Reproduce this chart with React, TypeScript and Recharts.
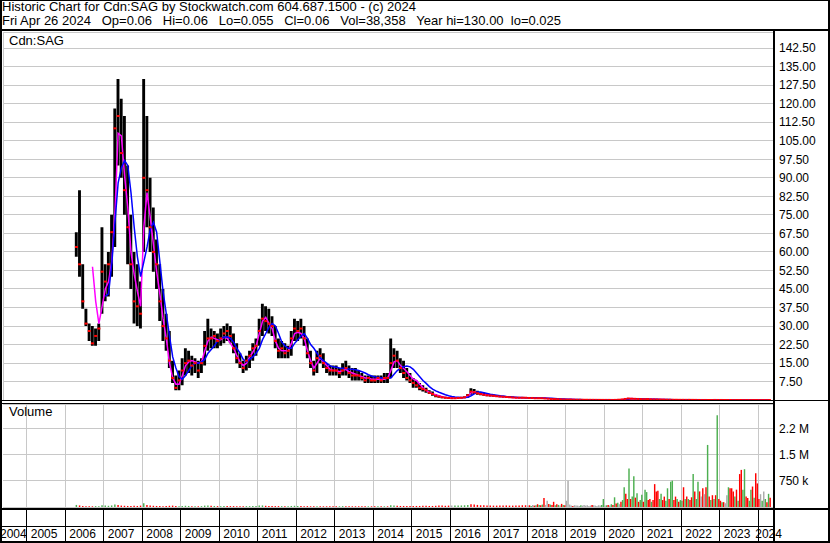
import React from 'react';
import { ComposedChart, Bar, Line, Scatter, XAxis, YAxis, CartesianGrid, Cell } from 'recharts';

// ---------- data ----------
// Monthly OHLC-style summary, April 2006 .. April 2024
const FIRST_YEAR = 2006;
const FIRST_MONTH = 3; // April (0-based)

const priceHigh: number[] = [
  68, 85, 55, 37, 31, 30, 29, 31, 70,
  55, 60, 75, 118, 130, 122, 115, 95, 75, 60, 55, 48,
  130, 115, 90, 78, 65, 55, 45, 35, 28, 16, 10, 12,
  17, 21, 20, 18, 17, 16, 17, 28, 33, 29, 28, 27,
  29, 30, 31, 30, 27, 23, 19, 16, 18, 20, 23, 25,
  33, 39, 38, 37, 34, 30, 25, 24, 23, 22, 28, 33,
  32, 33, 30, 25, 20, 16, 20, 21, 19, 15, 14, 14,
  14, 13, 15, 16, 14, 13, 13, 12, 11, 10, 10, 10,
  10, 10, 10, 11, 11, 25, 21, 20, 17, 16, 13, 11,
  9, 8, 7, 6, 5, 4, 3.5, 2.5, 2, 1.6, 1.4, 1.2,
  1.1, 1.0, 1.1, 1.2, 1.5, 2.5, 4.8, 4.5, 3.8, 3.2, 3.0, 2.6,
  2.4, 2.2, 2.0, 1.9, 1.7, 1.6, 1.5, 1.4, 1.3, 1.3, 1.2, 1.2,
  1.1, 1.0, 1.0, 1.0, 0.9, 0.9, 0.8, 0.7, 0.6, 0.5, 0.45, 0.4,
  0.35, 0.32, 0.3, 0.28, 0.26, 0.24, 0.22, 0.2, 0.2, 0.18, 0.17, 0.16,
  0.15, 0.14, 0.12, 0.15, 0.25, 0.35, 0.6, 0.9, 0.8, 0.7, 0.6, 0.55,
  0.5, 0.55, 0.45, 0.4, 0.38, 0.35, 0.3, 0.28, 0.25, 0.24, 0.22, 0.2,
  0.2, 0.18, 0.2, 0.18, 0.16, 0.14, 0.12, 0.12, 0.11, 0.12, 0.13, 0.12,
  0.12, 0.11, 0.1, 0.1, 0.1, 0.09, 0.09, 0.08, 0.08, 0.08, 0.08, 0.08,
  0.08, 0.07, 0.07, 0.06,
];

const priceLow: number[] = [
  58, 50, 37, 30, 24, 22, 22, 24, 35,
  40, 42, 50, 62, 95, 90, 75, 55, 45, 31, 30, 29,
  60, 70, 60, 52, 45, 32, 24, 20, 13, 7, 4, 4,
  6, 10, 11, 10, 11, 9, 11, 14, 20, 21, 21, 21,
  22, 23, 24, 23, 19, 15, 13, 11, 12, 13, 16, 18,
  22, 26, 28, 27, 26, 21, 17, 17, 17, 17, 18, 24,
  24, 25, 22, 17, 13, 10, 11, 15, 13, 11, 10, 10,
  10, 9, 10, 10, 9, 8, 8, 8, 8, 7, 7, 7,
  7, 7, 7, 7, 7, 9, 13, 13, 11, 9, 8, 7,
  5, 5, 4, 3.5, 3, 2.5, 1.8, 1.2, 1, 0.8, 0.7, 0.6,
  0.6, 0.6, 0.6, 0.7, 0.8, 1.0, 2.2, 2.5, 2.2, 2.0, 1.8, 1.6,
  1.5, 1.4, 1.3, 1.2, 1.1, 1.0, 1.0, 0.9, 0.9, 0.8, 0.8, 0.8,
  0.7, 0.7, 0.7, 0.6, 0.6, 0.6, 0.5, 0.4, 0.35, 0.3, 0.3, 0.25,
  0.2, 0.2, 0.18, 0.17, 0.16, 0.15, 0.14, 0.13, 0.12, 0.11, 0.1, 0.1,
  0.1, 0.1, 0.07, 0.08, 0.12, 0.18, 0.3, 0.45, 0.5, 0.45, 0.4, 0.38,
  0.35, 0.35, 0.3, 0.28, 0.25, 0.22, 0.2, 0.18, 0.16, 0.15, 0.14, 0.12,
  0.12, 0.12, 0.12, 0.11, 0.1, 0.08, 0.07, 0.07, 0.06, 0.06, 0.07, 0.07,
  0.07, 0.07, 0.06, 0.06, 0.06, 0.05, 0.05, 0.05, 0.04, 0.04, 0.04, 0.04,
  0.04, 0.04, 0.04, 0.025,
];

const priceClose: number[] = [
  62, 55, 40, 31, 28, 23, 26, 29, 52,
  48, 55, 68, 110, 115, 100, 85, 70, 55, 40, 38, 35,
  90, 85, 70, 60, 55, 40, 30, 25, 16, 9, 5, 8,
  12, 15, 16, 14, 15, 12, 15, 22, 25, 25, 26, 24,
  25, 27, 28, 26, 21, 17, 15, 13, 16, 18, 21, 22,
  28, 33, 32, 31, 30, 24, 20, 21, 19, 20, 25, 29,
  28, 29, 25, 19, 15, 12, 17, 18, 15, 13, 12, 12,
  12, 11, 12, 13, 11, 10, 10, 10, 9, 8, 9, 8,
  8, 9, 8, 9, 9, 15, 18, 16, 13, 11, 9, 8,
  7, 6, 5, 4.5, 4, 3, 2.5, 1.8, 1.5, 1.2, 1.0, 0.9,
  0.8, 0.8, 0.9, 1.0, 1.2, 2.0, 3.5, 3.2, 2.8, 2.5, 2.2, 2.0,
  1.9, 1.8, 1.6, 1.5, 1.4, 1.3, 1.2, 1.1, 1.0, 1.0, 1.0, 1.0,
  0.9, 0.9, 0.8, 0.8, 0.8, 0.7, 0.6, 0.5, 0.45, 0.4, 0.35, 0.3,
  0.25, 0.25, 0.22, 0.2, 0.2, 0.18, 0.17, 0.16, 0.15, 0.14, 0.13, 0.12,
  0.12, 0.12, 0.1, 0.12, 0.2, 0.3, 0.5, 0.7, 0.6, 0.55, 0.5, 0.45,
  0.4, 0.45, 0.35, 0.32, 0.3, 0.27, 0.24, 0.22, 0.2, 0.18, 0.17, 0.15,
  0.15, 0.14, 0.15, 0.13, 0.12, 0.1, 0.09, 0.09, 0.08, 0.08, 0.1, 0.09,
  0.09, 0.08, 0.08, 0.08, 0.07, 0.07, 0.07, 0.06, 0.06, 0.06, 0.06, 0.06,
  0.06, 0.06, 0.06, 0.06,
];

// short moving average (magenta)
const maShort: (number | null)[] = [
  null, null, null, null, null, 54, 40, 31, 38,
  45, 48, 56, 76, 108, 107, 91, 78, 60, 51, 44, 38,
  70, 84, 74, 63, 52, 43, 33, 25, 15, 9, 6.5, 6.5,
  10, 14, 15.5, 16, 15.5, 15, 15.5, 20, 24, 25.5, 25, 24.5,
  24.5, 25.5, 25, 23, 21, 18, 15.5, 14, 15, 17.5, 19.5, 22,
  27, 32, 33.5, 31, 29, 24, 21, 20, 20, 20, 23, 27,
  27.5, 27, 25, 20, 16, 13, 15, 17, 15.5, 14, 12.5, 12,
  12, 11.5, 12, 12.5, 11.5, 11, 10.5, 10, 9.5, 9, 9, 8.5,
  8.5, 8.5, 8.5, 8.5, 9, 12, 15.5, 16, 14, 12.8, 11.5, 10,
  8.5, 8, 6.5, 5, 4, 3.2, 2.6, 2.2, 1.8, 1.4, 1.1, 1.0,
  0.9, 0.9, 0.9, 1.0, 1.1, 1.6, 3.0, 3.4, 3.0, 2.6, 2.3, 2.1,
  1.9, 1.8, 1.6, 1.5, 1.4, 1.3, 1.2, 1.1, 1.0, 1.0, 1.0, 1.0,
  0.95, 0.9, 0.85, 0.8, 0.8, 0.75, 0.65, 0.55, 0.48, 0.42, 0.37, 0.32,
  0.28, 0.26, 0.24, 0.21, 0.2, 0.19, 0.18, 0.17, 0.16, 0.15, 0.14, 0.13,
  0.12, 0.12, 0.11, 0.11, 0.17, 0.26, 0.42, 0.62, 0.64, 0.57, 0.52, 0.47,
  0.43, 0.43, 0.39, 0.34, 0.31, 0.28, 0.25, 0.23, 0.21, 0.19, 0.17, 0.16,
  0.15, 0.15, 0.14, 0.14, 0.12, 0.11, 0.1, 0.09, 0.085, 0.085, 0.09, 0.09,
  0.09, 0.085, 0.08, 0.08, 0.075, 0.07, 0.07, 0.065, 0.06, 0.06, 0.06, 0.06,
  0.06, 0.06, 0.06, 0.06,
];

// long moving average (blue)
const maLong: (number | null)[] = [
  null, null, null, null, null, null, null, null, null,
  42, 43, 55, 72, 88, 94, 97, 95, 84, 70, 58, 50,
  56, 62, 69, 72, 68, 56, 44, 35, 26, 17.5, 13, 9.5,
  8.5, 10, 12, 14, 15, 15, 15.5, 16.5, 19, 20.5, 22, 24,
  25, 25.5, 25.7, 25, 23.5, 21, 19, 16.5, 15.5, 16.5, 17.5, 19,
  21, 24.5, 27, 29.5, 31, 30, 27, 23.5, 22, 21, 21, 23,
  24.5, 26, 27, 25, 22.5, 21, 19, 17, 16, 15, 14, 13.5,
  13.3, 13, 12.9, 12.8, 12.6, 12.5, 12.3, 12, 11.5, 11, 10.3, 9.8,
  9.5, 9.3, 9.1, 9, 8.9, 9, 10.5, 12, 13, 13.5, 13.8, 13.5,
  12.5, 11, 9.5, 8, 6.8, 5.5, 4.5, 3.8, 3.2, 2.7, 2.2, 1.8,
  1.5, 1.3, 1.2, 1.1, 1.1, 1.2, 1.8, 2.6, 3.3, 3.3, 3.0, 2.7,
  2.4, 2.2, 2.0, 1.8, 1.7, 1.5, 1.4, 1.3, 1.2, 1.1, 1.1, 1.0,
  1.0, 1.0, 0.95, 0.9, 0.9, 0.85, 0.8, 0.75, 0.7, 0.6, 0.5, 0.45,
  0.4, 0.35, 0.3, 0.28, 0.25, 0.22, 0.2, 0.18, 0.16, 0.15, 0.14, 0.13,
  0.13, 0.12, 0.12, 0.11, 0.13, 0.18, 0.26, 0.4, 0.55, 0.6, 0.58, 0.52,
  0.48, 0.45, 0.43, 0.4, 0.36, 0.33, 0.3, 0.27, 0.25, 0.23, 0.21, 0.19,
  0.17, 0.16, 0.15, 0.15, 0.14, 0.13, 0.12, 0.11, 0.1, 0.09, 0.09, 0.09,
  0.09, 0.09, 0.085, 0.085, 0.08, 0.08, 0.075, 0.075, 0.07, 0.07, 0.07, 0.07,
  0.065, 0.063, 0.062, 0.061,
];

// Volume (thousands of shares). Monthly Apr 2006 .. Dec 2017
const volMonthly: number[] = [
  60, 45, 30, 25, 20, 20, 25, 20, 50,
  40, 35, 45, 70, 60, 40, 35, 30, 30, 35, 30, 40,
  110, 60, 40, 35, 30, 30, 25, 30, 35, 40, 30, 25,
  30, 35, 30, 25, 25, 20, 25, 40, 45, 35, 30, 25,
  25, 30, 30, 25, 25, 20, 20, 20, 25, 25, 30, 30,
  40, 45, 35, 30, 30, 25, 25, 25, 20, 20, 30, 35,
  30, 30, 25, 25, 20, 20, 25, 25, 20, 20, 20, 20,
  20, 20, 25, 25, 20, 20, 20, 20, 20, 20, 20, 20,
  20, 20, 20, 20, 20, 50, 40, 35, 30, 30, 30, 30,
  30, 30, 30, 35, 35, 30, 30, 35, 40, 40, 35, 40,
  40, 40, 40, 45, 50, 60, 80, 70, 60, 50, 50, 45,
  45, 40, 40, 40, 40, 45, 40, 40, 45, 40, 50, 50,
];
const volMonthlyDir: string =
  'grrrrrggg' +
  'ggggrrrrrrrr' +
  'grrrrrrrrrrg' +
  'gggrgrgggrgr' +
  'ggrrrrrrgggg' +
  'ggrrrrrgrggg' +
  'grrrrrgrrrrr' +
  'rggrrrrrrrgr' +
  'rgrgrggrrrrr' +
  'rrrrrrrrrrrr' +
  'ngggggrrrrrr' +
  'rrrrrrrrrrrr';

// Half-monthly Jan 2018 .. Apr 2024
const volHalf: number[] = [
  40, 50, 30, 60, 40, 50, 80, 60, 50, 70, 260, 60, 180, 90, 70, 60, 150, 50, 80, 60, 40, 90, 60, 50,
  180, 760, 70, 40, 30, 50, 40, 40, 30, 50, 40, 60, 40, 50, 30, 40, 60, 50, 40, 30, 50, 40, 60, 230,
  40, 50, 60, 40, 80, 60, 280, 100, 120, 80, 150, 200, 570, 380, 230, 1110, 230, 300, 890, 270, 400, 150, 200, 350,
  150, 500, 430, 200, 230, 150, 200, 660, 450, 470, 230, 380, 200, 300, 180, 540, 230, 730, 760, 200, 300, 230, 150, 200,
  180, 570, 230, 300, 230, 200, 280, 950, 450, 230, 730, 450, 300, 540, 370, 570, 1790, 300, 200, 340, 230, 340, 2650, 230,
  180, 140, 140, 110, 340, 570, 540, 540, 450, 300, 500, 180, 950, 1070, 500, 1090, 300, 260, 180, 500, 590, 270, 975, 680,
  230, 370, 180, 450, 230, 140, 380, 270,
];
const volHalfDir: string =
  'nrgnrgrgrgrnnrgrrgrgnrgr' +
  'nnnnrnnnngnnnnnnrnnnnngg' +
  'ngrngrgrgnrggrrgrggrgrgg' +
  'rggrrgrrrrggrrggrggrrgrg' +
  'grgrgrrgrggrnrnrgrgrgrgr' +
  'rgrnngrrrgrgrrggrrggrgrr' +
  'rngngrgr';

const yearBounds: number[] = [2005, 2006, 2007, 2008, 2009, 2010, 2011, 2012, 2013, 2014, 2015, 2016, 2017, 2018, 2019, 2020, 2021, 2022, 2023, 2024];
const yearLabels: string[] = ['2004', '2005', '2006', '2007', '2008', '2009', '2010', '2011', '2012', '2013', '2014', '2015', '2016', '2017', '2018', '2019', '2020', '2021', '2022', '2023', '2024'];
const priceTicks: number[] = [7.5, 15, 22.5, 30, 37.5, 45, 52.5, 60, 67.5, 75, 82.5, 90, 97.5, 105, 112.5, 120, 127.5, 135, 142.5];
const volumeTicks: number[] = [750000, 1500000, 2250000];
const volumeTickLabels: string[] = ['750 k', '1.5 M', '2.2 M'];

const X_MIN = 2004.384;
const X_MAX = 2024.384;
const FONT = '"Liberation Sans", Arial, Helvetica, sans-serif';
const DIR_COLORS: Record<string, string> = { g: '#4caf50', r: '#ff0000', n: '#aaaaaa' };

const priceData = priceHigh.map((h, i) => ({
  t: FIRST_YEAR + (FIRST_MONTH + i + 0.5) / 12,
  range: [priceLow[i], h],
  close: priceClose[i],
  maS: maShort[i],
  maL: maLong[i],
}));

const volData = [
  ...volMonthly.map((v, i) => ({ t: FIRST_YEAR + (FIRST_MONTH + i + 0.5) / 12, vol: v * 1000, dir: volMonthlyDir[i] })),
  ...volHalf.map((v, i) => ({ t: 2018 + (i + 0.5) / 24, vol: v * 1000, dir: volHalfDir[i] })),
];

const yearAxisTicks = [X_MIN, ...yearBounds];

const CloseMark = (p: any) => {
  if (p.cx == null || p.cy == null) return <g />;
  return <rect x={p.cx - 1.5} y={p.cy - 1} width={3} height={2} fill="#ff0000" />;
};

const YearTick = (props: any) => {
  const { x, y, payload } = props;
  const v = payload.value as number;
  const idx = yearAxisTicks.indexOf(v);
  const label = yearLabels[idx];
  const isFirst = idx === 0;
  const isLast = idx === yearAxisTicks.length - 1;
  const tx = isFirst ? x - 3 : isLast ? x - 3 : x + 4;
  return (
    <g>
      {!isFirst && (
        <line x1={x} x2={x} y1={y + 2} y2={y + 34} stroke="#000" strokeWidth={1} shapeRendering="crispEdges" />
      )}
      <text x={tx} y={y + 31} fontSize={12} fontFamily={FONT} fill="#000">{label}</text>
    </g>
  );
};

const abs = (style: React.CSSProperties): React.CSSProperties => ({ position: 'absolute', background: '#000', ...style });

export default function App() {
  return (
    <div style={{ position: 'fixed', left: 0, top: 0, width: 830, height: 543, background: '#fff', fontFamily: FONT, overflow: 'hidden' }}>
      {/* title */}
      <div style={{ position: 'absolute', left: 2, top: 0, fontSize: 13, lineHeight: '14px', color: '#000', whiteSpace: 'pre' }}>
        {'Historic Chart for Cdn:SAG by Stockwatch.com 604.687.1500 - (c) 2024'}
        <br />
        {'Fri Apr 26 2024   Op=0.06   Hi=0.06   Lo=0.055   Cl=0.06   Vol=38,358   Year hi=130.00  lo=0.025'}
      </div>

      {/* price chart */}
      <div style={{ position: 'absolute', left: 0, top: 0 }}>
        <ComposedChart width={830} height={401} data={priceData} margin={{ top: 32, right: 0, left: 3, bottom: 0.8 }}>
          <CartesianGrid stroke="#c8c8c8" strokeWidth={1} shapeRendering="crispEdges" />
          <XAxis type="number" dataKey="t" domain={[X_MIN, X_MAX]} ticks={yearBounds} height={0} tick={false} axisLine={false} tickLine={false} allowDataOverflow />
          <YAxis type="number" orientation="right" domain={[0, 149]} ticks={priceTicks} width={57} axisLine={false} tickLine={false} tickSize={0} tickMargin={6}
            tickFormatter={(v: number) => v.toFixed(2)} tick={{ fontSize: 12, fill: '#000', fontFamily: FONT }} interval={0} allowDataOverflow />
          <Bar dataKey="range" fill="#000" barSize={4} isAnimationActive={false} />
          <Scatter dataKey="close" shape={CloseMark} isAnimationActive={false} />
          <Line type="linear" dataKey="maS" stroke="#ff00ff" strokeWidth={1.5} dot={false} isAnimationActive={false} />
          <Line type="linear" dataKey="maL" stroke="#0000ff" strokeWidth={1.5} dot={false} isAnimationActive={false} />
        </ComposedChart>
      </div>

      {/* volume chart */}
      <div style={{ position: 'absolute', left: 0, top: 0 }}>
        <ComposedChart width={830} height={543} data={volData} margin={{ top: 404, right: 0, left: 3, bottom: 0 }}>
          <CartesianGrid stroke="#c8c8c8" strokeWidth={1} shapeRendering="crispEdges" verticalValues={yearBounds} />
          <XAxis type="number" dataKey="t" domain={[X_MIN, X_MAX]} ticks={yearAxisTicks} height={36} axisLine={false} tickLine={false} tickSize={0} tickMargin={0}
            tick={<YearTick />} interval={0} allowDataOverflow />
          <YAxis type="number" orientation="right" domain={[0, 2971000]} ticks={volumeTicks} width={57} axisLine={false} tickLine={false} tickSize={0} tickMargin={6}
            tickFormatter={(v: number) => volumeTickLabels[volumeTicks.indexOf(v)]} tick={{ fontSize: 12, fill: '#000', fontFamily: FONT }} interval={0} allowDataOverflow />
          <Bar dataKey="vol" barSize={2} isAnimationActive={false}>
            {volData.map((d, i) => (
              <Cell key={i} fill={DIR_COLORS[d.dir]} />
            ))}
          </Bar>
        </ComposedChart>
      </div>

      {/* labels */}
      <div style={{ position: 'absolute', left: 9, top: 34, fontSize: 13, lineHeight: '14px', color: '#000' }}>Cdn:SAG</div>
      <div style={{ position: 'absolute', left: 9, top: 405, fontSize: 13, lineHeight: '14px', color: '#000' }}>Volume</div>

      {/* frame */}
      <div style={abs({ left: 0, top: 0, width: 830, height: 1 })} />
      <div style={abs({ left: 0, top: 0, width: 2, height: 543 })} />
      <div style={abs({ left: 828, top: 0, width: 2, height: 543 })} />
      <div style={abs({ left: 0, top: 541, width: 830, height: 2 })} />
      <div style={abs({ left: 0, top: 29, width: 830, height: 2 })} />
      <div style={abs({ left: 773, top: 29, width: 2, height: 514 })} />
      <div style={abs({ left: 0, top: 400, width: 830, height: 1 })} />
      <div style={abs({ left: 0, top: 403, width: 773, height: 1 })} />
      <div style={abs({ left: 0, top: 508, width: 830, height: 2 })} />
      <div style={abs({ left: 0, top: 526, width: 773, height: 1 })} />
    </div>
  );
}
